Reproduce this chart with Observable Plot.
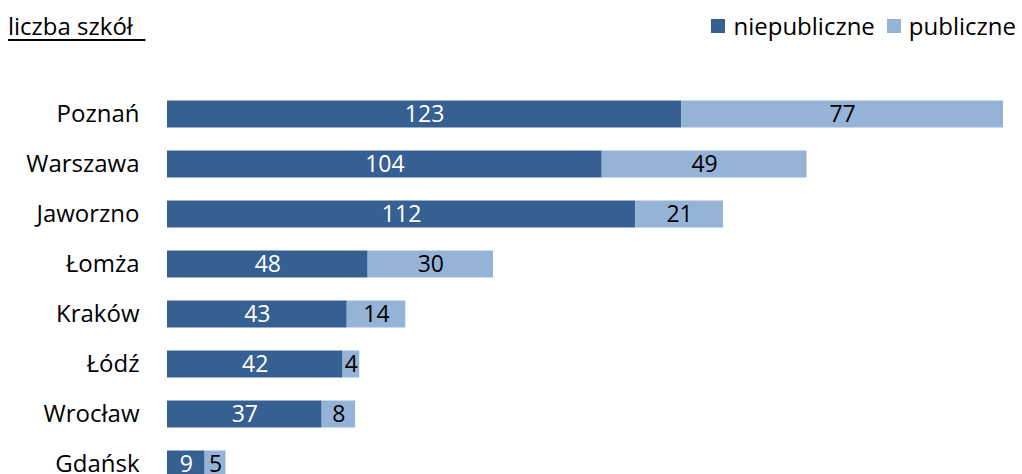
<!DOCTYPE html>
<html>
<head>
<meta charset="utf-8">
<script src="https://cdn.jsdelivr.net/npm/d3@7"></script>
<script src="https://cdn.jsdelivr.net/npm/@observablehq/plot@0.6"></script>
<style>
  html, body { margin: 0; padding: 0; background: #fff; overflow: hidden; }
  body { font-family: "Open Sans", Lato, sans-serif; width: 1022px; height: 474px; }
  #header { position: relative; height: 75px; }
  #title { position: absolute; left: 8px; top: 9px; font-size: 24px; color: #000; text-decoration: underline; text-underline-offset: 4px; white-space: pre; }
  #legend { position: absolute; right: 6px; top: 9px; font-size: 24px; color: #000; display: flex; align-items: center; }
  .sw { display: inline-block; width: 14px; height: 14px; margin-right: 8px; }
  .item { display: flex; align-items: center; margin-left: 12px; }
</style>
</head>
<body>
<div id="header">
  <div id="title">liczba szkół  </div>
  <div id="legend"></div>
</div>
<div id="chart"></div>
<script>
const cities = ["Poznań", "Warszawa", "Jaworzno", "Łomża", "Kraków", "Łódź", "Wrocław", "Gdańsk"];
const niepubliczne = [123, 104, 112, 48, 43, 42, 37, 9];
const publiczne = [77, 49, 21, 30, 14, 4, 8, 5];
const seriesNames = ["niepubliczne", "publiczne"];
const seriesColors = ["#376092", "#95b3d7"];
const labelColors = ["#ffffff", "#000000"];

const rows = [];
cities.forEach((c, i) => {
  rows.push({city: c, series: seriesNames[0], value: niepubliczne[i]});
  rows.push({city: c, series: seriesNames[1], value: publiczne[i]});
});

const legend = document.getElementById("legend");
seriesNames.forEach((s, i) => {
  const it = document.createElement("div");
  it.className = "item";
  it.innerHTML = `<span class="sw" style="background:${seriesColors[i]}"></span><span>${s}</span>`;
  legend.appendChild(it);
});

const chart = Plot.plot({
  width: 1022,
  height: 413.5,
  marginTop: 13.5,
  marginBottom: 0,
  marginLeft: 167,
  marginRight: 19,
  style: {fontFamily: "'Open Sans', Lato, sans-serif", fontSize: "24px", color: "#000", background: "#fff", overflow: "visible"},
  x: {domain: [0, 200], axis: null},
  y: {domain: cities, padding: 0, label: null},
  color: {domain: seriesNames, range: seriesColors},
  marks: [
    Plot.barX(rows, Plot.stackX({
      x: "value", y: "city", fill: "series", order: seriesNames,
      insetTop: 11.5, insetBottom: 11.5
    })),
    Plot.text(rows, Plot.stackX({
      x: "value", y: "city", z: "series", order: seriesNames,
      text: d => String(d.value),
      fill: d => labelColors[seriesNames.indexOf(d.series)],
      fontSize: 23
    })),
    Plot.axisY({tickSize: 0, tickPadding: 28, fontSize: 24, label: null})
  ]
});
document.getElementById("chart").appendChild(chart);
</script>
</body>
</html>
